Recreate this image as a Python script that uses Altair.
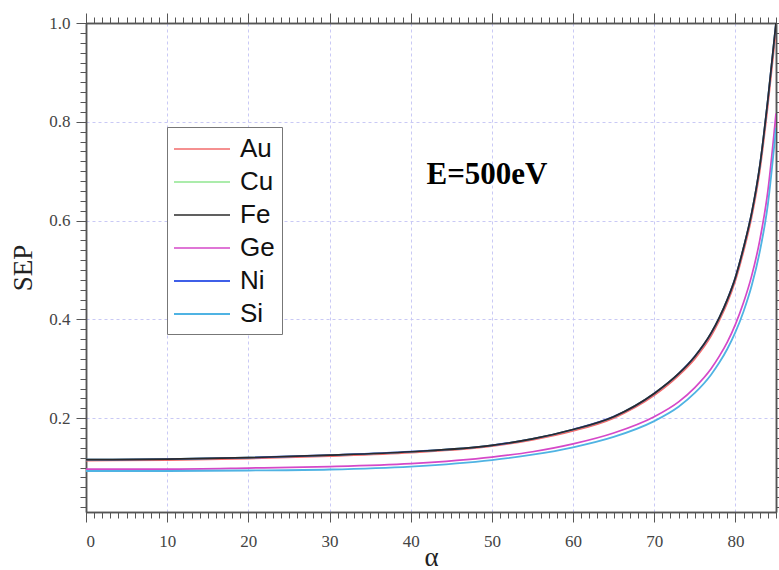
import altair as alt
import pandas as pd

# Secondary-electron probability versus incidence angle, E = 500 eV
elements = ["Au", "Cu", "Fe", "Ge", "Ni", "Si"]
element_colors = ["#f26b6b", "#8fe68f", "#2b2b2b", "#d548c8", "#3f5fe8", "#4fb3e3"]
element_widths = [1.6, 1.8, 1.6, 1.9, 2.8, 1.9]

alpha_deg = [0, 10, 20, 30, 40, 50, 55, 60, 65, 70, 73, 75, 77, 78, 79, 80, 81, 82, 83, 84, 85]

sep_au = [0.114, 0.115, 0.118, 0.123, 0.130, 0.143, 0.156, 0.174, 0.200, 0.246, 0.286,
          0.320, 0.366, 0.397, 0.433, 0.478, 0.537, 0.606, 0.699, 0.832, 0.985]
sep_cu = [0.116, 0.117, 0.120, 0.125, 0.132, 0.145, 0.158, 0.177, 0.203, 0.250, 0.290,
          0.325, 0.372, 0.403, 0.440, 0.485, 0.545, 0.615, 0.710, 0.845, 1.000]
sep_fe = [0.116, 0.117, 0.120, 0.125, 0.132, 0.145, 0.158, 0.177, 0.203, 0.250, 0.290,
          0.325, 0.372, 0.403, 0.440, 0.485, 0.545, 0.615, 0.710, 0.845, 1.000]
sep_ge = [0.097, 0.097, 0.099, 0.102, 0.108, 0.121, 0.132, 0.148, 0.170, 0.203, 0.233,
          0.262, 0.300, 0.325, 0.354, 0.390, 0.434, 0.488, 0.560, 0.660, 0.817]
sep_ni = [0.116, 0.117, 0.120, 0.125, 0.132, 0.145, 0.158, 0.177, 0.203, 0.250, 0.290,
          0.325, 0.372, 0.403, 0.440, 0.485, 0.545, 0.615, 0.710, 0.845, 1.000]
sep_si = [0.093, 0.093, 0.094, 0.096, 0.102, 0.115, 0.126, 0.141, 0.162, 0.194, 0.223,
          0.251, 0.288, 0.312, 0.340, 0.374, 0.416, 0.468, 0.537, 0.633, 0.788]

# energy annotation, placed in data units
annot_alpha = [49.4]
annot_sep = [0.692]
annot_text = ["E=500eV"]

x_major = [0, 10, 20, 30, 40, 50, 60, 70, 80]
x_minor = list(range(0, 86))
y_major = [0.2, 0.4, 0.6, 0.8, 1.0]
y_minor = [round(0.02 * i, 2) for i in range(1, 51)]

# drawing order: Fe last so it sits on top of the coincident Cu/Ni curves
series = {"Au": sep_au, "Cu": sep_cu, "Ge": sep_ge, "Si": sep_si, "Ni": sep_ni, "Fe": sep_fe}
rows = []
for name, vals in series.items():
    for a, v in zip(alpha_deg, vals):
        rows.append({"alpha": a, "SEP": v, "element": name})
df = pd.DataFrame(rows)
annot = pd.DataFrame({"alpha": annot_alpha, "SEP": annot_sep, "label": annot_text})

x_scale = alt.Scale(domain=[0, 85], nice=False, zero=False)
y_scale = alt.Scale(domain=[0.01, 1.0], nice=False, zero=False)

AX = "#555555"
GRID = "#c9c9f5"
LABEL_FONT = "Liberation Serif"

common = dict(domainColor=AX, domainWidth=1.5, tickColor=AX, tickWidth=1)

x_main = alt.Axis(orient="bottom", values=x_major, format="d", grid=True, gridColor=GRID,
                  gridDash=[3, 3], gridWidth=1, tickSize=10, labelFont=LABEL_FONT,
                  labelFontSize=17, labelColor="#444444", labelPadding=11,
                  title="α", titleFont=LABEL_FONT, titleFontSize=27, titleFontWeight="normal",
                  titleColor="#222222", titleX=345, titleY=53, titleBaseline="alphabetic",
                  titleAlign="center", **common)
y_main = alt.Axis(orient="left", values=y_major, format=".1f", grid=True, gridColor=GRID,
                  gridDash=[3, 3], gridWidth=1, tickSize=10, labelFont=LABEL_FONT,
                  labelFontSize=17, labelColor="#444444", labelPadding=6,
                  title="SEP", titleFont=LABEL_FONT, titleFontSize=27, titleFontWeight="normal",
                  titleColor="#222222", titleX=-63, titleY=244.5, titleAngle=270,
                  titleBaseline="middle", titleAlign="center", **common)

lines = alt.Chart(df).mark_line(clip=True, interpolate="monotone").encode(
    x=alt.X("alpha:Q", scale=x_scale, axis=x_main),
    y=alt.Y("SEP:Q", scale=y_scale, axis=y_main),
    color=alt.Color(
        "element:N",
        scale=alt.Scale(domain=elements, range=element_colors),
        legend=alt.Legend(
            orient="none", legendX=81, legendY=104, title=None,
            symbolType="M-2,0H2", symbolSize=784, symbolStrokeWidth=1.5,
            labelFont="Liberation Sans", labelFontSize=26, labelColor="#111111",
            labelOffset=23, rowPadding=5, padding=7, strokeColor="#777777",
            fillColor="white", direction="vertical", symbolOffset=13,
        ),
    ),
    strokeWidth=alt.StrokeWidth(
        "element:N", scale=alt.Scale(domain=elements, range=element_widths), legend=None
    ),
)


def tick_layer(x_axis, y_axis):
    return alt.Chart(df).mark_point(opacity=0).encode(
        x=alt.X("alpha:Q", scale=x_scale, axis=x_axis),
        y=alt.Y("SEP:Q", scale=y_scale, axis=y_axis),
    )


minor_bl = tick_layer(
    alt.Axis(orient="bottom", values=x_minor, labels=False, grid=False, tickSize=6, title=None, **common),
    alt.Axis(orient="left", values=y_minor, labels=False, grid=False, tickSize=6, title=None, **common),
)
major_tr = tick_layer(
    alt.Axis(orient="top", values=x_major, labels=False, grid=False, tickSize=10, title=None, **common),
    alt.Axis(orient="right", values=y_major, labels=False, grid=False, tickSize=8, title=None, **common),
)
minor_tr = tick_layer(
    alt.Axis(orient="top", values=x_minor, labels=False, grid=False, tickSize=6, title=None, **common),
    alt.Axis(orient="right", values=y_minor, labels=False, grid=False, tickSize=6, title=None, **common),
)

energy = alt.Chart(annot).mark_text(
    font="Liberation Serif", fontWeight="bold", fontSize=31, color="#000000",
    align="center", baseline="middle",
).encode(
    x=alt.X("alpha:Q", scale=x_scale, axis=None),
    y=alt.Y("SEP:Q", scale=y_scale, axis=None),
    text="label:N",
)

chart = (
    alt.layer(lines, minor_bl, major_tr, minor_tr, energy)
    .resolve_axis(x="independent", y="independent")
    .properties(
        width=690, height=489,
        autosize=alt.AutoSizeParams(type="none"),
        padding={"left": 86, "top": 23, "right": 3, "bottom": 58},
        background="white",
    )
    .configure_view(stroke=None)
)

chart.save("out.html", embed_options={"renderer": "svg", "actions": False})
